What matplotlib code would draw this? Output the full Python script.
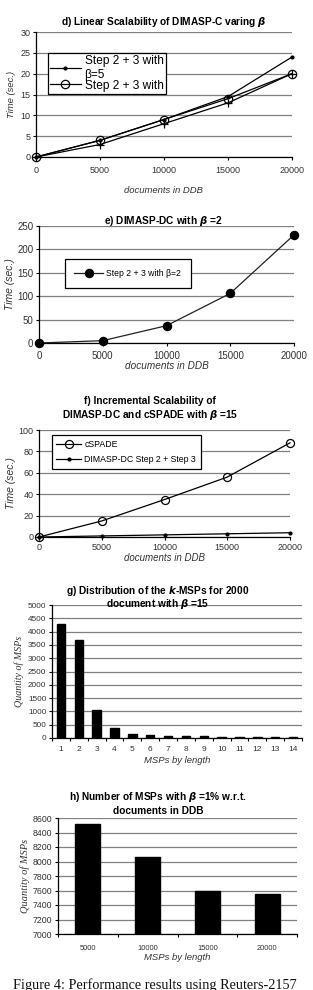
import matplotlib
matplotlib.use("Agg")
import matplotlib.pyplot as plt
import numpy as np

plt.rcParams['font.family'] = ['Liberation Sans', 'DejaVu Sans']
plt.rcParams['mathtext.fontset'] = 'custom'
plt.rcParams['mathtext.it'] = 'Liberation Sans:italic:bold'
plt.rcParams['mathtext.bf'] = 'Liberation Sans:bold'

W, H = 313, 990

# ---- data ----
docs = [0, 5000, 10000, 15000, 20000]
d_beta5 = [0, 4, 9, 14.5, 24]
d_circle = [0, 4, 9, 14, 20]
d_plus = [0, 3, 8, 13, 20]

e_beta2 = [0, 5, 37, 106, 231]

f_cspade = [0, 15, 35, 56, 88]
f_dimasp = [0, 1, 2, 3, 4]

g_lengths = list(range(1, 15))
g_counts = [4300, 3680, 1070, 360, 160, 120, 70, 70, 60, 50, 50, 40, 30, 30]

h_docs = ['5000', '10000', '15000', '20000']
h_counts = [8520, 8060, 7600, 7550]

TXT = '#333333'
GRID = '#808080'
TFS = 7.3

fig = plt.figure(figsize=(W / 100, H / 100), dpi=100)


def add_ax(left, right, top, bottom):
    return fig.add_axes([left / W, 1 - bottom / H, (right - left) / W, (bottom - top) / H])


def style(ax, ymax, ystep, ymin=0, lsize=6.5):
    ax.set_ylim(ymin, ymax)
    ax.set_yticks(np.arange(ymin, ymax + 0.1, ystep))
    for s in ['top', 'right']:
        ax.spines[s].set_visible(False)
    for s in ['left', 'bottom']:
        ax.spines[s].set_linewidth(0.9)
        ax.spines[s].set_color('black')
    ax.yaxis.grid(True, color=GRID, linewidth=0.9)
    ax.set_axisbelow(True)
    ax.tick_params(axis='both', labelsize=lsize, colors='black', labelcolor=TXT,
                   length=2.5, width=0.8, pad=1.5)
    ax.set_facecolor('none')


def fig_text(x, y, s, **kw):
    fig.text(x / W, 1 - y / H, s, **kw)


# ---- panel d ----
ax = add_ax(36, 292, 32, 157)
l1, = ax.plot(docs, d_beta5, color='black', lw=0.9, marker='o', ms=2, clip_on=False)
l2, = ax.plot(docs, d_circle, color='black', lw=0.9, marker='o', ms=6, mfc='none', mew=0.9, clip_on=False)
ax.plot(docs, d_plus, color='black', lw=0.9, marker='+', ms=6, mew=0.9, clip_on=False)
ax.set_xlim(0, 20000)
ax.set_xticks(docs)
style(ax, 30, 5, lsize=6.5)
ax.tick_params(axis='x', pad=4)
ax.set_ylabel('Time (sec.)', fontsize=6.8, style='italic', color=TXT, labelpad=3)
ax.set_xlabel('documents in DDB', fontsize=6.8, style='italic', color=TXT, labelpad=8)
ax.set_title(r'd) Linear Scalability of DIMASP-C varing $\boldsymbol{\beta}$', fontsize=TFS,
             fontweight='bold', pad=5)
leg = ax.legend([l1, l2], ['Step 2 + 3 with\nβ=5', 'Step 2 + 3 with'], loc='upper left',
                bbox_to_anchor=(0.045, 0.835), fontsize=8.6, frameon=True, fancybox=False,
                edgecolor='black', framealpha=1, handlelength=2.6, borderpad=0.2,
                labelspacing=-0.1, handletextpad=0.3, borderaxespad=0)
leg.get_frame().set_linewidth(0.9)

# ---- panel e ----
ax = add_ax(39, 294, 226, 343)
l1, = ax.plot(docs, e_beta2, color='#222222', lw=0.9, marker='o', ms=5.8, mfc='black', mec='black', clip_on=False)
ax.set_xlim(0, 20000)
ax.set_xticks(docs)
style(ax, 250, 50, lsize=7)
ax.tick_params(axis='x', pad=3)
ax.set_ylabel('Time (sec.)', fontsize=7.5, style='italic', color=TXT, labelpad=2)
ax.set_xlabel('documents in DDB', fontsize=7.2, style='italic', color=TXT, labelpad=0)
fig_text(163, 221, r'e) DIMASP-DC with $\boldsymbol{\beta}$ =2', fontsize=TFS, fontweight='bold',
         ha='center', va='center')
leg = ax.legend([l1], ['Step 2 + 3 with β=2'], loc='upper left',
                bbox_to_anchor=(0.1, 0.72), fontsize=6.2, frameon=True, fancybox=False,
                edgecolor='black', framealpha=1, handlelength=3.3, borderpad=1.15,
                handletextpad=0.4, borderaxespad=0)
leg.get_frame().set_linewidth(0.9)

# ---- panel f ----
ax = add_ax(39, 290, 430, 537)
l1, = ax.plot(docs, f_cspade, color='black', lw=0.9, marker='o', ms=5.8, mfc='none', mew=0.9, clip_on=False)
l2, = ax.plot(docs, f_dimasp, color='black', lw=0.9, marker='o', ms=2, clip_on=False)
ax.plot(docs[:1], [0], color='black', marker='+', ms=5, mew=0.9, clip_on=False)
ax.set_xlim(0, 20000)
ax.set_xticks(docs)
style(ax, 100, 20, lsize=6.5)
ax.tick_params(axis='x', pad=2)
ax.set_ylabel('Time (sec.)', fontsize=7.5, style='italic', color=TXT, labelpad=2)
ax.set_xlabel('documents in DDB', fontsize=7, style='italic', color=TXT, labelpad=0.5)
fig_text(150, 401, 'f) Incremental Scalability of', fontsize=TFS, fontweight='bold',
         ha='center', va='center')
fig_text(150, 415, r'DIMASP-DC and cSPADE with $\boldsymbol{\beta}$ =15', fontsize=TFS,
         fontweight='bold', ha='center', va='center')
leg = ax.legend([l1, l2], ['cSPADE', 'DIMASP-DC Step 2 + Step 3'], loc='upper left',
                bbox_to_anchor=(0.05, 0.95), fontsize=6.3, frameon=True, fancybox=False,
                edgecolor='black', framealpha=1, handlelength=2.8, borderpad=0.55,
                labelspacing=0.7, handletextpad=0.4, borderaxespad=0)
leg.get_frame().set_linewidth(0.9)

# ---- panel g ----
ax = add_ax(52, 302, 605, 738)
ax.bar(g_lengths, g_counts, width=0.47, color='black', edgecolor='black')
ax.set_xlim(0.5, 14.5)
style(ax, 5000, 500, lsize=5.9)
ax.set_xticks(np.arange(0.5, 15, 1))
ax.set_xticklabels([])
ax.set_xticks(g_lengths, minor=True)
ax.set_xticklabels([str(v) for v in g_lengths], minor=True)
ax.tick_params(axis='x', which='minor', length=0, labelsize=6, labelcolor=TXT, pad=6)
ax.set_ylabel('Quantity of MSPs', fontsize=7.2, style='italic', color=TXT,
              family='Liberation Serif', labelpad=3)
ax.set_xlabel('MSPs by length', fontsize=6.8, style='italic', color=TXT, labelpad=2)
fig_text(158, 591, r'g) Distribution of the $\boldsymbol{k}$-MSPs for 2000', fontsize=TFS,
         fontweight='bold', ha='center', va='center')
fig_text(158, 604, r'document with $\boldsymbol{\beta}$ =15', fontsize=TFS, fontweight='bold',
         ha='center', va='center')

# ---- panel h ----
ax = add_ax(58, 297, 818, 934)
xpos = np.arange(len(h_docs))
ax.bar(xpos, h_counts, width=0.42, color='black', edgecolor='black')
ax.set_xlim(-0.5, 3.5)
style(ax, 8600, 200, ymin=7000, lsize=6.3)
ax.set_xticks(np.arange(-0.5, 3.6, 1))
ax.set_xticklabels([])
ax.set_xticks(xpos, minor=True)
ax.set_xticklabels(h_docs, minor=True)
ax.tick_params(axis='x', which='minor', length=0, labelsize=5.4, labelcolor=TXT, pad=8)
ax.set_ylabel('Quantity of MSPs', fontsize=7.5, style='italic', color=TXT,
              family='Liberation Serif', labelpad=2)
ax.set_xlabel('MSPs by length', fontsize=6.8, style='italic', color=TXT, labelpad=1)
fig_text(158, 797, r'h) Number of MSPs with $\boldsymbol{\beta}$ =1% w.r.t.', fontsize=TFS,
         fontweight='bold', ha='center', va='center')
fig_text(158, 811, 'documents in DDB', fontsize=TFS, fontweight='bold', ha='center', va='center')

# ---- caption ----
fig_text(13, 988.5, 'Figure 4: Performance results using Reuters-2157', fontsize=10.3,
         family='Liberation Serif', ha='left', va='baseline', color='#111111')

fig.savefig('out.png', dpi=100)
